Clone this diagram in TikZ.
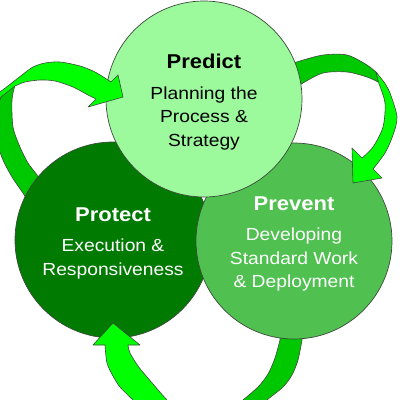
\documentclass[tikz,border=0pt]{standalone}
\usepackage{fontspec}
\setmainfont[FakeStretch=1.1]{Liberation Sans}

\definecolor{predictgreen}{HTML}{9CF99C}
\definecolor{preventgreen}{HTML}{50C050}
\definecolor{protectgreen}{HTML}{007A00}
\definecolor{arrowlight}{HTML}{00FF00}
\definecolor{arrowdark}{HTML}{00C800}
\definecolor{rim}{HTML}{3C4A3C}

\newcommand{\phasetitle}{\fontsize{20}{23.5}\selectfont\bfseries}

\begin{document}
\begin{tikzpicture}[x=1pt,y=-1pt,
    phase/.style={circle,draw=rim,line width=0.7pt,minimum size=196pt,inner sep=0pt},
    phasetext/.style={align=center,inner sep=0pt,font=\fontsize{17.5}{23.5}\selectfont},
    band/.style={draw=rim,line width=0.6pt,line join=round}]
    \useasboundingbox (0,0) rectangle (400,400);
    \clip (0,0) rectangle (400,400);

    % Faces arriere des fleches (sous les cercles)
    \draw[band,fill=arrowdark] (30,205) -- plot[smooth] coordinates {(23,193) (12,177) (3,160) (-2,145) (-4,128) (-3,110) (3,93) (13,83)}
        -- plot[smooth] coordinates {(15,85) (12,100) (13,127) (20,147) (28,163) (37,175) (45,188)} -- cycle;
    \draw[band,fill=arrowdark] (290,64) -- plot[smooth] coordinates {(300,61) (323,55) (347,55) (367,65) (377,73)}
        -- plot[smooth] coordinates {(378,82) (367,77) (347,72) (323,73) (303,83)} -- (292,90) -- cycle;
    \draw[band,fill=arrowdark] (280,328) -- plot[smooth] coordinates {(280,340) (275,358) (268,374) (258,387) (243,400) (228,412)}
        -- plot[smooth] coordinates {(252,414) (267,400) (283,387) (292,375) (298,360) (302,340)} -- (304,328) -- cycle;

    % Cercles
    \node[phase,fill=protectgreen] (protect) at (113,240) {};
    \node[phase,fill=preventgreen] (prevent) at (294,241) {};
    \node[phase,fill=predictgreen] (predict) at (204,99) {};

    % Textes
    \node[phasetext,text=white] (protecttext) at ([yshift=-3pt]protect.center)
        {{\phasetitle Protect}\\[7pt]Execution \&\\Responsiveness};
    \node[phasetext,text=white] (preventtext) at ([yshift=-3pt]prevent.center)
        {{\phasetitle Prevent}\\[7pt]Developing\\Standard Work\\\& Deployment};
    \node[phasetext,text=black] (predicttext) at ([yshift=-3pt]predict.center)
        {{\phasetitle Predict}\\[7pt]Planning the\\Process \&\\Strategy};

    % Faces avant et pointes
    \draw[band,fill=arrowlight] (-3,94) -- plot[smooth] coordinates {(4,89) (13,82) (22,75) (33,67) (45,63) (60,62) (80,66) (95,72) (111,82)}
        -- (118,75) -- (123,97) -- (88,107) -- (96,99)
        -- plot[smooth] coordinates {(96,99) (88,95) (73,87) (55,81) (40,80) (25,82) (15,86)} -- (-3,100) -- cycle;
    \draw[band,fill=arrowlight] (376,72) -- plot[smooth] coordinates {(384,82) (390,93) (397,117) (393,135) (385,153) (373,169)}
        -- (382,178) -- (353,183) -- (352,148) -- (362,158)
        -- plot[smooth] coordinates {(362,158) (373,147) (383,127) (385,103) (379,84)} -- cycle;
    \draw[band,fill=arrowlight] (150,415) -- plot[smooth] coordinates {(133,400) (120,387) (113,376) (107,363) (105,345)}
        -- (93,345) -- (113,323) -- (140,345) -- (128,345)
        -- plot[smooth] coordinates {(128,345) (130,353) (138,366) (147,377) (167,400) (180,412)} -- cycle;
\end{tikzpicture}
\end{document}
